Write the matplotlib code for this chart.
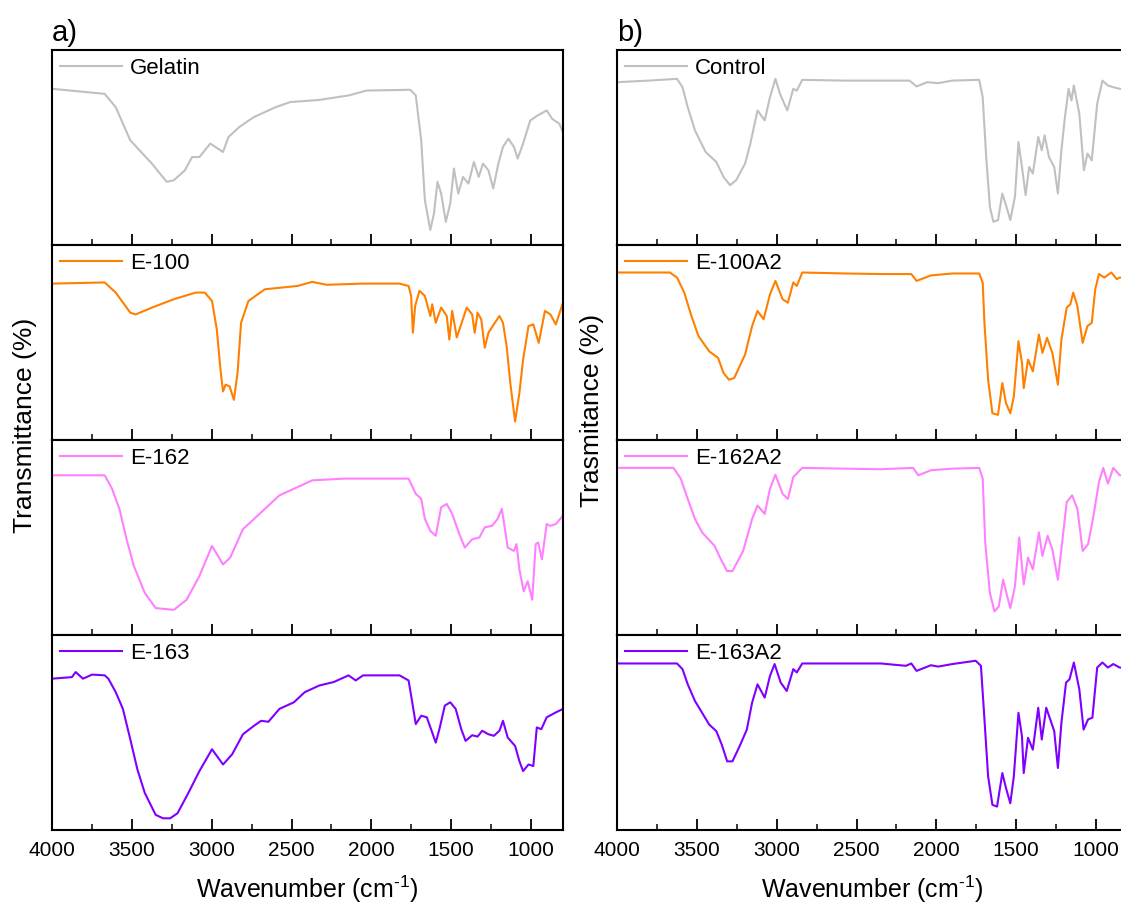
import matplotlib
matplotlib.use("Agg")
import matplotlib.pyplot as plt
from matplotlib.ticker import MultipleLocator

plt.rcParams['font.family'] = ['Liberation Sans', 'DejaVu Sans']
plt.rcParams['mathtext.fontset'] = 'custom'
plt.rcParams['mathtext.rm'] = 'Liberation Sans'
plt.rcParams['mathtext.it'] = 'Liberation Sans:italic'
plt.rcParams['mathtext.bf'] = 'Liberation Sans:bold'
plt.rcParams['axes.unicode_minus'] = False

# ---------------- data (wavenumber cm-1, relative transmittance) ----------------
gelatin_wn = [4000, 3670, 3601, 3510, 3374, 3282, 3237, 3168, 3123, 3077, 3009, 2929, 2895, 2827,
              2736, 2599, 2508, 2326, 2143, 2030, 1756, 1722, 1688, 1665, 1631, 1608, 1586, 1563,
              1534, 1506, 1483, 1456, 1426, 1392, 1358, 1328, 1301, 1267, 1237, 1205, 1176, 1142,
              1107, 1084, 1050, 1005, 959, 902, 868, 823, 800]
gelatin_t = [80.1, 77.5, 70.7, 53.7, 41.7, 32.4, 33.2, 38.3, 45.1, 45.1, 52.0, 47.7, 55.4, 60.5,
             65.6, 70.7, 73.3, 74.4, 76.7, 79.2, 79.6, 76.7, 53.7, 23.0, 7.7, 16.2, 32.4, 26.4,
             11.9, 21.3, 39.2, 26.4, 34.9, 31.5, 42.6, 34.9, 41.7, 38.3, 29.0, 41.7, 50.3, 54.5,
             50.3, 44.3, 52.0, 63.9, 66.4, 69.0, 64.7, 62.2, 57.9]

e100_wn = [4000, 3670, 3601, 3510, 3476, 3374, 3237, 3100, 3043, 2998, 2968, 2945, 2929, 2913,
           2888, 2861, 2838, 2816, 2770, 2667, 2462, 2371, 2280, 2052, 1824, 1767, 1751, 1740,
           1726, 1699, 1665, 1631, 1619, 1597, 1563, 1528, 1512, 1494, 1465, 1437, 1403, 1369,
           1353, 1335, 1312, 1290, 1267, 1233, 1198, 1176, 1153, 1130, 1100, 1073, 1050, 1016,
           986, 952, 913, 879, 845, 800]
e100_t = [80.2, 80.8, 75.6, 65.3, 64.4, 67.9, 72.2, 75.6, 75.6, 71.3, 56.7, 36.1, 24.9, 28.4,
          27.5, 20.6, 34.4, 60.1, 71.3, 77.3, 79.0, 81.1, 79.6, 80.2, 80.2, 79.0, 73.9, 55.0,
          68.7, 76.5, 73.9, 63.6, 69.6, 60.1, 67.9, 63.6, 51.5, 66.2, 52.6, 59.5, 67.9, 64.4,
          55.0, 65.3, 61.9, 47.3, 55.0, 59.3, 63.6, 60.1, 48.1, 29.2, 9.5, 24.1, 41.2, 58.4,
          59.3, 49.8, 66.2, 64.4, 59.3, 70.4]

e162_wn = [4000, 3670, 3624, 3578, 3533, 3487, 3419, 3351, 3237, 3157, 3077, 2998, 2929, 2884,
           2804, 2690, 2576, 2440, 2371, 2166, 1824, 1767, 1722, 1688, 1665, 1631, 1597, 1563,
           1528, 1494, 1449, 1415, 1369, 1324, 1290, 1244, 1210, 1183, 1146, 1107, 1091, 1073,
           1046, 1021, 993, 971, 955, 932, 902, 879, 845, 800]
e162_t = [81.9, 81.9, 75.0, 64.7, 49.1, 35.3, 21.6, 13.8, 12.9, 18.1, 30.2, 45.7, 36.2, 39.7,
          54.3, 62.9, 71.6, 76.7, 79.3, 80.2, 80.2, 80.2, 72.4, 69.8, 59.5, 53.4, 50.9, 65.5,
          67.2, 62.1, 51.7, 44.8, 49.1, 50.0, 55.2, 56.0, 59.5, 64.7, 44.8, 43.1, 46.6, 33.6,
          22.4, 27.6, 18.1, 46.6, 47.4, 38.8, 56.9, 56.0, 56.9, 61.2]

e163_wn = [4000, 3875, 3852, 3806, 3749, 3670, 3647, 3601, 3556, 3510, 3465, 3419, 3351, 3305,
           3260, 3214, 3146, 3077, 2998, 2929, 2872, 2804, 2736, 2690, 2645, 2576, 2485, 2417,
           2326, 2235, 2143, 2098, 2052, 1824, 1767, 1744, 1722, 1688, 1653, 1619, 1597, 1574,
           1540, 1506, 1472, 1437, 1410, 1369, 1335, 1306, 1267, 1233, 1198, 1176, 1146, 1100,
           1073, 1050, 1016, 986, 964, 936, 902, 845, 800]
e163_t = [77.6, 78.4, 81.0, 77.6, 79.7, 79.3, 77.6, 70.7, 62.1, 46.6, 31.0, 19.0, 7.8, 6.0,
          6.0, 8.6, 19.0, 30.2, 41.4, 33.6, 38.8, 49.1, 53.4, 56.0, 55.5, 62.1, 65.5, 70.7,
          74.1, 75.9, 79.3, 76.7, 79.3, 79.3, 76.7, 65.5, 54.3, 58.6, 57.8, 50.0, 44.8, 51.7,
          63.8, 65.5, 62.1, 51.7, 45.7, 48.6, 47.9, 50.9, 49.1, 48.3, 50.9, 56.0, 47.4, 43.1,
          35.3, 30.2, 33.6, 32.8, 52.6, 51.7, 57.8, 60.3, 62.1]

control_wn = [4000, 3803, 3624, 3590, 3557, 3512, 3445, 3378, 3333, 3292, 3254, 3198, 3165, 3120,
              3075, 3042, 3008, 2979, 2934, 2896, 2874, 2840, 2572, 2348, 2168, 2124, 2057, 1989,
              1900, 1732, 1710, 1688, 1665, 1643, 1614, 1587, 1564, 1537, 1508, 1486, 1464, 1441,
              1419, 1396, 1362, 1340, 1322, 1295, 1262, 1239, 1217, 1195, 1172, 1154, 1139, 1105,
              1076, 1054, 1027, 993, 960, 926, 892, 852, 800]
control_t = [83.5, 84.3, 85.2, 80.9, 70.7, 58.8, 47.7, 42.6, 34.9, 30.7, 33.2, 41.7, 52.0, 69.0,
             63.9, 75.8, 85.2, 77.5, 69.0, 80.1, 79.2, 84.7, 84.3, 84.3, 84.3, 81.3, 83.5, 83.0,
             84.3, 84.7, 75.8, 45.1, 19.6, 11.9, 12.8, 26.4, 20.4, 12.8, 24.7, 52.8, 40.0, 25.6,
             40.0, 36.6, 55.4, 48.6, 56.2, 45.1, 40.0, 26.4, 48.6, 65.6, 80.1, 74.1, 81.8, 67.3,
             38.3, 46.9, 43.4, 72.4, 84.3, 81.8, 80.9, 80.1, 79.5]

e100a2_wn = [4000, 3669, 3624, 3579, 3534, 3490, 3423, 3367, 3333, 3299, 3266, 3198, 3154, 3120,
             3082, 3042, 3008, 2963, 2930, 2896, 2874, 2840, 2572, 2348, 2157, 2124, 2034, 1900,
             1732, 1710, 1699, 1676, 1649, 1614, 1587, 1564, 1537, 1515, 1486, 1464, 1453, 1426,
             1396, 1358, 1336, 1307, 1274, 1239, 1217, 1184, 1161, 1143, 1117, 1084, 1054, 1027,
             1005, 982, 949, 904, 870, 852, 800]
e100a2_t = [85.9, 85.9, 83.3, 75.6, 63.6, 53.3, 45.5, 42.1, 34.4, 30.9, 31.8, 43.8, 58.4, 66.2,
            61.9, 74.7, 81.6, 72.2, 70.4, 80.8, 79.0, 85.9, 85.4, 85.1, 85.1, 81.6, 84.4, 85.4,
            85.4, 80.8, 60.1, 30.9, 13.7, 12.9, 29.2, 18.9, 13.7, 22.3, 50.7, 39.5, 26.6, 41.2,
            35.2, 54.1, 44.7, 52.4, 44.7, 28.4, 51.5, 67.9, 69.6, 75.6, 68.7, 49.8, 58.4, 60.1,
            77.3, 85.1, 83.3, 85.9, 82.5, 83.3, 83.0]

e162a2_wn = [4000, 3646, 3601, 3557, 3512, 3467, 3389, 3355, 3311, 3277, 3210, 3154, 3120, 3075,
             3042, 3008, 2963, 2930, 2896, 2840, 2572, 2348, 2146, 2113, 2034, 1900, 1732, 1710,
             1694, 1665, 1636, 1609, 1582, 1559, 1537, 1508, 1481, 1453, 1426, 1396, 1358, 1336,
             1303, 1274, 1239, 1210, 1184, 1150, 1117, 1084, 1050, 1016, 982, 955, 926, 892, 852, 800]
e162a2_t = [85.7, 85.7, 80.2, 69.8, 59.5, 52.6, 45.7, 39.7, 32.8, 32.8, 43.1, 59.5, 66.4, 62.1,
            75.0, 82.2, 72.4, 69.8, 81.0, 85.7, 85.3, 85.0, 85.7, 81.9, 84.5, 85.3, 85.7, 80.2,
            47.4, 21.6, 12.1, 14.7, 28.4, 20.7, 13.8, 25.0, 50.0, 25.9, 39.7, 33.6, 52.6, 40.5,
            50.9, 44.0, 28.4, 49.1, 68.1, 71.6, 64.7, 43.1, 46.6, 61.2, 78.4, 85.7, 77.6, 85.7, 81.9, 82.0]

e163a2_wn = [4000, 3624, 3590, 3557, 3512, 3467, 3423, 3378, 3344, 3310, 3277, 3232, 3187, 3154,
             3120, 3075, 3042, 3013, 2975, 2937, 2896, 2874, 2840, 2572, 2348, 2191, 2157, 2124,
             2034, 1989, 1900, 1754, 1721, 1703, 1676, 1649, 1620, 1587, 1564, 1537, 1515, 1486,
             1464, 1453, 1426, 1396, 1362, 1340, 1312, 1262, 1239, 1217, 1188, 1166, 1139, 1105,
             1078, 1050, 1023, 993, 960, 926, 892, 852, 800]
e163a2_t = [85.4, 85.4, 82.5, 74.7, 66.2, 60.1, 54.1, 50.7, 43.8, 35.2, 35.2, 43.0, 51.5, 65.3,
            74.7, 67.9, 79.0, 85.1, 75.6, 71.3, 82.5, 80.8, 85.4, 85.4, 85.4, 84.2, 85.4, 81.6,
            84.5, 83.8, 85.1, 86.8, 84.2, 61.9, 27.5, 12.9, 12.0, 29.2, 21.5, 13.7, 27.5, 60.1,
            48.1, 29.2, 47.3, 41.2, 62.7, 46.4, 62.7, 50.7, 31.8, 55.0, 75.6, 77.3, 85.9, 72.2,
            51.5, 56.7, 57.6, 83.3, 85.9, 83.3, 85.1, 83.3, 83.0]

left_series = [("Gelatin", gelatin_wn, gelatin_t, "#c0c0c0"),
               ("E-100", e100_wn, e100_t, "#ff8000"),
               ("E-162", e162_wn, e162_t, "#ff80ff"),
               ("E-163", e163_wn, e163_t, "#8000ff")]
right_series = [("Control", control_wn, control_t, "#c0c0c0"),
                ("E-100A2", e100a2_wn, e100a2_t, "#ff8000"),
                ("E-162A2", e162a2_wn, e162a2_t, "#ff80ff"),
                ("E-163A2", e163a2_wn, e163a2_t, "#8000ff")]

xticks = [4000, 3500, 3000, 2500, 2000, 1500, 1000]

# ---------------- layout ----------------
W, H = 1121, 907
fig = plt.figure(figsize=(W / 100, H / 100), dpi=100)

top_px, bot_px = 50, 830
panel_h = (bot_px - top_px) / 4
col_left = [52, 617]
col_w = 511

for col, series in enumerate([left_series, right_series]):
    for row, (name, wn, t, color) in enumerate(series):
        ptop = top_px + row * panel_h
        ax = fig.add_axes([col_left[col] / W, 1 - (ptop + panel_h) / H, col_w / W, panel_h / H])
        ax.plot(wn, t, color=color, lw=1.5, label=name)
        ax.set_xlim(4000, 800)
        ax.set_ylim(0, 100)
        ax.set_yticks([])
        ax.set_xticks(xticks)
        ax.xaxis.set_minor_locator(MultipleLocator(250))
        ax.tick_params(axis='x', which='major', direction='in', length=8, width=1.3,
                       labelsize=15, pad=8, top=False, colors='black')
        ax.tick_params(axis='x', which='minor', direction='in', length=4, width=1.1, top=False)
        if row < 3:
            ax.tick_params(axis='x', labelbottom=False)
        for s in ax.spines.values():
            s.set_linewidth(1.5)
        ax.legend(loc='upper left', frameon=False, fontsize=16, handlelength=2.8,
                  handletextpad=0.35, borderaxespad=0.15, borderpad=0.2)
        if row == 3:
            ax.set_xlabel(r"Wavenumber (cm$^{\text{-}1}$)", fontsize=18, labelpad=10)

fig.text(52 / W, 1 - 47 / H, "a)", fontsize=21, ha='left', va='bottom')
fig.text(617 / W, 1 - 47 / H, "b)", fontsize=21, ha='left', va='bottom')
fig.text(25 / W, 1 - 425 / H, "Transmittance (%)", rotation=90, fontsize=19,
         ha='center', va='center')
fig.text(592 / W, 1 - 410 / H, "Trasmitance (%)", rotation=90, fontsize=19,
         ha='center', va='center')

fig.savefig("out.png", dpi=100)
